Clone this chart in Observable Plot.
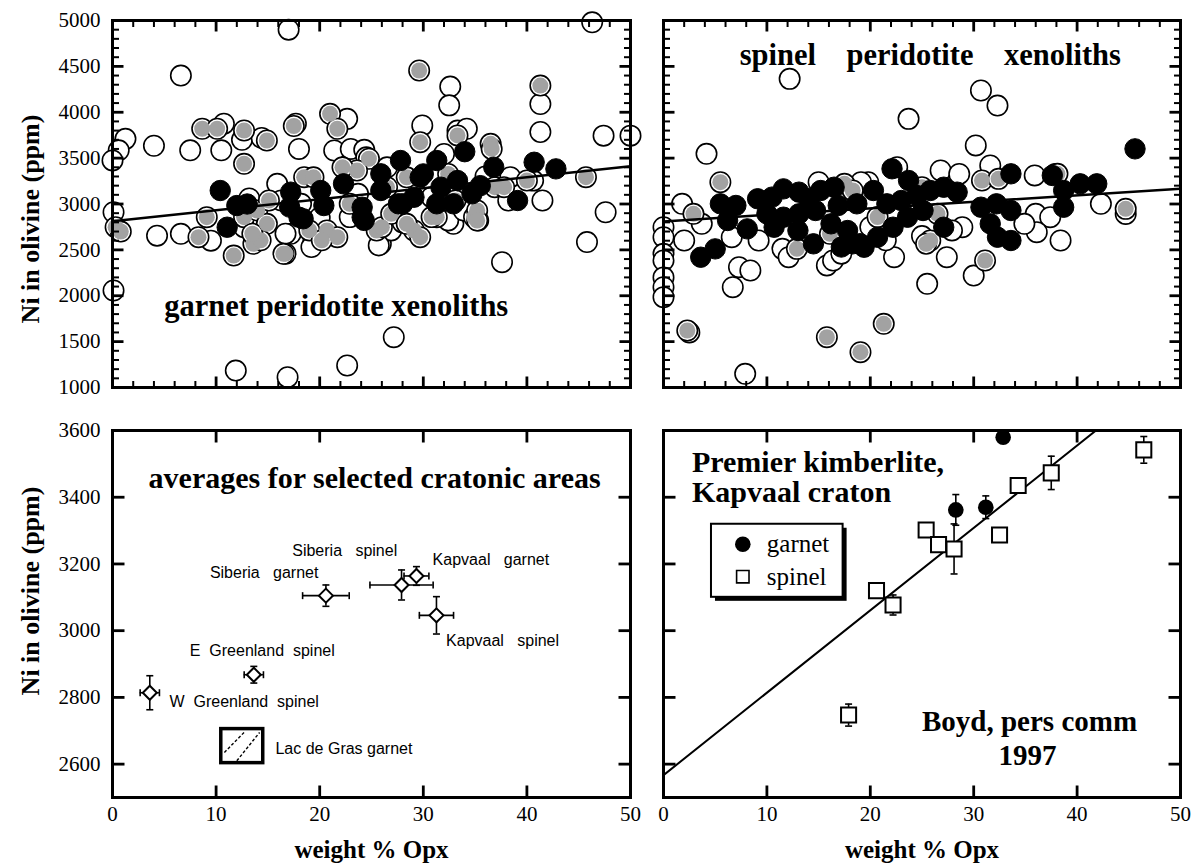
<!DOCTYPE html>
<html><head><meta charset="utf-8">
<script src="https://cdn.jsdelivr.net/npm/d3@7"></script>
<script src="https://cdn.jsdelivr.net/npm/@observablehq/plot@0.6"></script>
<style>
html,body{margin:0;padding:0;background:#fff;}
#chart{position:relative;width:1200px;height:865px;overflow:hidden;background:#fff;}
#chart > div{position:absolute;}
svg text{white-space:pre;}
g[aria-label="craton labels"] text{letter-spacing:0.3px;}
</style></head><body><div id="chart"></div>
<script>
// ---------- DATA ----------
// Top-left: garnet peridotite xenoliths  [weight % Opx, Ni ppm]
const garnetOpen = [[17.0,4900],[46.3,4980],[6.6,4400],[32.6,4280],[32.5,4075],[41.3,4090],[41.3,3785],[47.4,3745],[50.0,3745],[10.75,3875],[4.0,3635],[1.25,3710],[0.6,3585],[0,3475],[7.5,3585],[10.5,3585],[0.1,2910],[0.1,2057],[4.3,2655],[6.6,2675],[9.5,2600],[11.9,1185],[16.9,1112],[22.65,1240],[27.15,1548],[37.6,2366],[45.8,2585],[47.6,2910],[41.5,3038],[38.4,3292],[22.65,3928],[17.7,3875],[18.0,3600],[29.9,3856],[33.3,3800],[34.2,3820],[21.4,3583],[23.0,3600],[24.3,3590],[15.9,3220],[17.2,2675],[19.4,2602],[25.9,2566],[32.9,2784],[16.3,3038],[16.7,2676],[23.7,3111],[22.9,2857],[26.5,3400],[32.0,3545],[32.4,2821],[33.9,2929],[35.3,2821],[40.6,3255],[38.2,3038],[30.8,3074],[24.5,3509],[26.9,2712],[12.7,2748],[18.2,3002],[12.5,3700],[14.4,3720],[20.0,2850],[28.0,2800],[36.0,3300],[13.2,3060],[19.2,2531],[25.7,2549]];
const garnetGray = [[29.6,4455],[41.3,4291],[21.0,3983],[21.7,3820],[17.5,3850],[8.66,3820],[10.1,3820],[12.7,3801],[14.9,3692],[12.7,3438],[29.7,3674],[33.3,3747],[24.75,3493],[36.5,3656],[36.6,3600],[0.3,2747],[0.8,2700],[8.3,2638],[11.7,2438],[9.1,2856],[12.7,2856],[13.97,2929],[13.6,2566],[14.9,2784],[14.3,2604],[15.1,3038],[16.7,2459],[18.5,3292],[20.7,2711],[21.7,2638],[23.6,3365],[25.5,2711],[26.0,2747],[29.1,2711],[29.7,2638],[31.3,2856],[19.0,2712],[20.2,2604],[22.9,3002],[22.2,3400],[26.9,2893],[28.4,2784],[30.8,2857],[33.1,3038],[34.9,2857],[35.2,2929],[35.2,2820],[36.9,3183],[37.8,3183],[40.0,3256],[45.7,3292],[26.5,3183],[28.4,3291],[32.4,3328],[16.5,2457],[19.4,3291],[13.5,2676]];
const garnetBlack = [[10.4,3147],[12.0,2983],[13.0,3000],[11.07,2747],[17.2,3129],[18.0,2856],[17.1,2966],[18.4,2839],[20.1,3147],[20.4,2983],[22.3,3220],[24.1,2965],[24.1,2856],[24.3,2821],[25.9,3329],[25.9,3147],[27.8,3474],[27.6,3002],[29.1,3074],[29.7,3292],[31.3,3474],[31.7,3183],[31.3,3002],[33.3,3256],[32.9,3002],[34.0,3570],[36.8,3401],[40.7,3455],[42.8,3383],[39.1,3038],[34.7,3111],[28.0,3002],[30.0,3328],[35.5,3200]];
const garnetFit = [[0,2812],[50,3412]];

// Top-right: spinel peridotite xenoliths
const spinelOpen = [[12.2,4364],[30.7,4237],[32.3,4073],[23.7,3928],[30.2,3638],[4.16,3547],[31.6,3420],[1.8,3002],[2.0,2602],[3.7,2784],[0,2747],[0,2638],[0,2457],[0,2384],[0,2200],[0,2093],[0,1985],[6.6,2638],[7.3,2311],[8.4,2275],[6.7,2093],[9.2,2602],[11.5,2511],[12.1,2420],[15.8,2330],[2.5,1600],[7.9,1149],[22.3,2420],[25.5,2130],[27.4,2420],[30.0,2220],[28.9,2747],[16.4,2384],[26.8,3365],[19.8,3238],[22.6,3401],[42.3,3002],[44.7,2892],[36.0,2893],[37.4,2856],[36.1,2693],[38.4,2602],[34.9,2784],[35.9,3311],[17.2,2459],[21.5,2604],[15.0,3237],[19.1,3237],[28.6,3328],[37.9,3328],[27.9,2712],[20.0,2750],[25.0,2650]];
const spinelGray = [[2.9,2893],[5.5,3238],[12.9,2511],[2.3,1621],[15.8,1548],[21.3,1694],[19.05,1385],[31.1,2384],[25.8,2602],[17.5,3220],[30.8,3256],[32.4,3274],[38.1,3329],[44.7,2947],[16.1,2675],[25.4,2567],[18.3,3147],[25.0,3183],[26.5,2893],[20.7,2857]];
const spinelBlack = [[45.6,3601],[3.6,2420],[5.0,2511],[5.5,3002],[7.0,2984],[6.2,2820],[8.1,2729],[9.1,3057],[10.5,3075],[11.6,3165],[13.1,3129],[14.05,3057],[15.2,3147],[10.0,2893],[11.6,2856],[13.1,2893],[14.7,2929],[10.7,2747],[13.0,2711],[14.5,2566],[16.2,2784],[22.1,3384],[23.7,3256],[16.5,3183],[20.3,3147],[18.7,3002],[16.9,2984],[21.6,3002],[23.0,3038],[24.5,3093],[25.8,3147],[27.1,3183],[28.4,3129],[23.6,2856],[25.1,2929],[27.1,2747],[22.2,2747],[20.7,2638],[19.4,2529],[17.8,2711],[18.3,2566],[30.7,2965],[32.2,3002],[31.6,2784],[32.3,2638],[33.6,3329],[37.6,3311],[38.7,3147],[38.7,2965],[40.3,3220],[41.9,3220],[33.6,2929],[33.6,2602],[17.2,2531],[19.0,2567]];
const spinelFit = [[0,2810],[50,3165]];

// Bottom-left: averages for selected cratonic areas (x ± ex, y ± ey)
const cratonNames = ["W Greenland spinel","E Greenland spinel","Siberia garnet","Siberia spinel","Kapvaal garnet","Kapvaal spinel"];
const cratonX  = [3.6, 13.64, 20.6, 27.9, 29.34, 31.27];
const cratonEx = [0.93, 0.93, 2.25, 3.05, 1.2, 1.65];
const cratonY  = [2814, 2868, 3105, 3137, 3164, 3046];
const cratonEy = [51, 25, 32, 45, 28, 56];
const lacDeGras = {x1: 10.5, x2: 14.55, y1: 2603, y2: 2705};
const lacHatch = [{x1: 10.8, y1: 2635, x2: 12.7, y2: 2695}, {x1: 12.0, y1: 2610, x2: 14.2, y2: 2695}];

// Bottom-right: Premier kimberlite (Boyd, pers comm 1997)
const premierGarnet = [{x: 32.85, y: 3580, e: 0}, {x: 28.27, y: 3362, e: 46}, {x: 31.17, y: 3370, e: 34}];
const premierSpinel = [{x: 17.9, y: 2747, e: 33}, {x: 20.6, y: 3120, e: 0}, {x: 22.2, y: 3077, e: 30}, {x: 25.4, y: 3302, e: 0}, {x: 26.6, y: 3258, e: 0}, {x: 28.1, y: 3245, e: 75}, {x: 32.5, y: 3287, e: 0}, {x: 34.3, y: 3435, e: 0}, {x: 37.5, y: 3473, e: 50}, {x: 46.45, y: 3542, e: 40}];
const premierFit = [[0,2567],[50,3802]];

// Tick values
const xMajor = [10,20,30,40];
const xLabels = [0,10,20,30,40,50];
const xMinorTop = [2,4,6,8,12,14,16,18,22,24,26,28,32,34,36,38,42,44,46,48];
const yMajorTop = [1500,2000,2500,3000,3500,4000,4500];
const yLabelsTop = [1000,1500,2000,2500,3000,3500,4000,4500,5000];
const yMinorTop = d3.range(1100,5000,100).filter(d => d % 500 !== 0);
const yMajorBot = [2600,2800,3000,3200,3400];
const yLabelsBot = [2600,2800,3000,3200,3400,3600];

// Annotation texts
const titleTL = [{text: "garnet peridotite xenoliths", x: 21.6, y: 1885}];
const titleTR = [{text: "spinel    peridotite    xenoliths", x: 25.8, y: 4625}];
const titleBL = [{text: "averages for selected cratonic areas", x: 25.3, y: 3456}];
const cratonLabels = [
  {text: "Siberia   garnet", x: 9.4, y: 3172},
  {text: "Siberia   spinel", x: 17.35, y: 3240},
  {text: "Kapvaal   garnet", x: 30.9, y: 3211},
  {text: "Kapvaal   spinel", x: 32.2, y: 2970},
  {text: "E  Greenland  spinel", x: 7.46, y: 2940},
  {text: "W  Greenland  spinel", x: 5.5, y: 2788},
  {text: "Lac de Gras garnet", x: 15.73, y: 2646}
];
const titleBR = [{text: "Premier kimberlite,", x: 2.75, y: 3505}, {text: "Kapvaal craton", x: 2.75, y: 3415}];
const boydNote = [{text: "Boyd, pers comm", x: 35.4, y: 2726}, {text: "1997", x: 35.2, y: 2624}];
const legendBox = {x1: 4.64, x2: 17.37, y1: 3100, y2: 3319};
const legendItems = [{text: "garnet", x: 7.67, y: 3259, kind: "garnet"}, {text: "spinel", x: 7.67, y: 3162, kind: "spinel"}];

// ---------- DRAWING ----------
const SERIF = "'Liberation Serif','Times New Roman',Times,serif";
const SANS = "'Liberation Sans',Arial,Helvetica,sans-serif";
const chart = document.getElementById("chart");
const GRAY = "#a2a2a2";

const hcap = {draw(ctx, size) { const w = Math.sqrt(size / Math.PI); ctx.moveTo(-w, 0); ctx.lineTo(w, 0); }};
const vcap = {draw(ctx, size) { const w = Math.sqrt(size / Math.PI); ctx.moveTo(0, -w); ctx.lineTo(0, w); }};

// inward ticks on all four sides, as link segments (pixel length converted to data units)
function inwardTicks(xs, ys, len, sw, xd, yd, fw, fh) {
  const kx = len * (xd[1] - xd[0]) / fw, ky = len * (yd[1] - yd[0]) / fh;
  const segs = [];
  for (const v of xs) {
    segs.push({x1: v, x2: v, y1: yd[0], y2: yd[0] + ky});
    segs.push({x1: v, x2: v, y1: yd[1] - ky, y2: yd[1]});
  }
  for (const v of ys) {
    segs.push({x1: xd[0], x2: xd[0] + kx, y1: v, y2: v});
    segs.push({x1: xd[1] - kx, x2: xd[1], y1: v, y2: v});
  }
  return [Plot.link(segs, {x1: "x1", y1: "y1", x2: "x2", y2: "y2", stroke: "black", strokeWidth: sw, strokeLinecap: "butt"})];
}

function place(svg, left, top) {
  const div = document.createElement("div");
  div.style.left = left + "px";
  div.style.top = top + "px";
  div.appendChild(svg);
  chart.appendChild(div);
}

const XD = [0, 50], YT = [1000, 5000], YB = [2500, 3600];
const P = d => d[0], Q = d => d[1];
function xenoPanel(open, gray, black, fit, title, fw, extra) {
  return [
    Plot.dot(open, {x: P, y: Q, r: 10.2, fill: "white", stroke: "black", strokeWidth: 1.6}),
    Plot.dot(gray, {x: P, y: Q, r: 10.2, fill: "white", stroke: "black", strokeWidth: 1.6}),
    Plot.dot(gray, {x: P, y: Q, r: 8, fill: GRAY}),
    Plot.dot(black, {x: P, y: Q, r: 10.2, fill: "black", stroke: "black", strokeWidth: 1}),
    Plot.line(fit, {x: P, y: Q, stroke: "black", strokeWidth: 2.5}),
    Plot.text(title, {x: "x", y: "y", text: "text", fontFamily: SERIF, fontWeight: "bold", fontSize: 30.5, fill: "black"}),
    Plot.frame({stroke: "black", strokeWidth: 3}),
    ...inwardTicks(xMinorTop, yMinorTop, 6.5, 2, XD, YT, fw, 367),
    ...inwardTicks(xMajor, yMajorTop, 11, 2.8, XD, YT, fw, 367),
    ...extra
  ];
}

const yAxisTitle = (dy) => Plot.text(["Ni in olivine (ppm)"], {frameAnchor: "left", textAnchor: "middle", lineAnchor: "middle", dx: -82, dy, rotate: -90, fontFamily: SERIF, fontWeight: "bold", fontSize: 26, fill: "black"});
const xAxisTitle = Plot.text(["weight % Opx"], {frameAnchor: "bottom", textAnchor: "middle", lineAnchor: "middle", dy: 52, fontFamily: SERIF, fontWeight: "bold", fontSize: 25, fill: "black"});
const tickText = {tickSize: 0, tickFormat: d3.format("d"), fontSize: 21, fontFamily: SERIF, label: null};
const common = {style: {background: "transparent", overflow: "visible", fontFamily: SERIF, color: "black"}};

// Top-left
place(Plot.plot({
  ...common, width: 640, height: 400, marginLeft: 112, marginRight: 10, marginTop: 20, marginBottom: 13,
  x: {domain: XD, axis: null}, y: {domain: YT, axis: null},
  marks: xenoPanel(garnetOpen, garnetGray, garnetBlack, garnetFit, titleTL, 518, [
    Plot.axisY(yLabelsTop, {...tickText, tickPadding: 12}),
    yAxisTitle(15)
  ])
}), 0, 0);

// Top-right
place(Plot.plot({
  ...common, width: 560, height: 400, marginLeft: 23, marginRight: 20, marginTop: 20, marginBottom: 13,
  x: {domain: XD, axis: null}, y: {domain: YT, axis: null},
  marks: xenoPanel(spinelOpen, spinelGray, spinelBlack, spinelFit, titleTR, 517, [])
}), 640, 0);

// Bottom-left
const capO = {symbol: hcap, r: 3.5, stroke: "black", fill: "none", strokeWidth: 1.6};
const vcapO = {symbol: vcap, r: 3.5, stroke: "black", fill: "none", strokeWidth: 1.6};
place(Plot.plot({
  ...common, width: 640, height: 465, marginLeft: 112, marginRight: 10, marginTop: 30, marginBottom: 68,
  x: {domain: XD, axis: null}, y: {domain: YB, axis: null},
  marks: [
    Plot.ruleX(cratonX, {x: d => d, y1: (d, i) => cratonY[i] - cratonEy[i], y2: (d, i) => cratonY[i] + cratonEy[i], stroke: "black", strokeWidth: 1.6}),
    Plot.ruleY(cratonY, {y: d => d, x1: (d, i) => cratonX[i] - cratonEx[i], x2: (d, i) => cratonX[i] + cratonEx[i], stroke: "black", strokeWidth: 1.6}),
    Plot.dot(cratonX, {x: d => d, y: (d, i) => cratonY[i] - cratonEy[i], ...capO}),
    Plot.dot(cratonX, {x: d => d, y: (d, i) => cratonY[i] + cratonEy[i], ...capO}),
    Plot.dot(cratonX, {x: (d, i) => cratonX[i] - cratonEx[i], y: (d, i) => cratonY[i], ...vcapO}),
    Plot.dot(cratonX, {x: (d, i) => cratonX[i] + cratonEx[i], y: (d, i) => cratonY[i], ...vcapO}),
    Plot.dot(cratonX, {x: d => d, y: (d, i) => cratonY[i], symbol: "diamond2", r: 6.3, fill: "white", stroke: "black", strokeWidth: 2, title: (d, i) => cratonNames[i]}),
    Plot.rect([lacDeGras], {x1: "x1", x2: "x2", y1: "y1", y2: "y2", fill: "white", stroke: "black", strokeWidth: 3.5}),
    Plot.link(lacHatch, {x1: "x1", y1: "y1", x2: "x2", y2: "y2", stroke: "black", strokeWidth: 1.4, strokeDasharray: "3,2"}),
    Plot.text(cratonLabels, {x: "x", y: "y", text: "text", textAnchor: "start", fontFamily: SANS, fontSize: 16, fill: "black", ariaLabel: "craton labels"}),
    Plot.text(titleBL, {x: "x", y: "y", text: "text", fontFamily: SERIF, fontWeight: "bold", fontSize: 30, fill: "black"}),
    Plot.frame({stroke: "black", strokeWidth: 3}),
    ...inwardTicks(xMajor, yMajorBot, 12, 2.8, XD, YB, 518, 367),
    Plot.axisY(yLabelsBot, {...tickText, tickPadding: 12}),
    Plot.axisX(xLabels, {...tickText, tickPadding: 9}),
    yAxisTitle(-23),
    xAxisTitle
  ]
}), 0, 400);

// Bottom-right
const withErr = [...premierSpinel, ...premierGarnet].filter(d => d.e);
place(Plot.plot({
  ...common, width: 560, height: 465, marginLeft: 23, marginRight: 20, marginTop: 30, marginBottom: 68,
  x: {domain: XD, axis: null}, y: {domain: YB, axis: null},
  marks: [
    Plot.line(premierFit, {x: P, y: Q, stroke: "black", strokeWidth: 2, clip: true}),
    Plot.ruleX(withErr, {x: "x", y1: d => d.y - d.e, y2: d => d.y + d.e, stroke: "black", strokeWidth: 1.6}),
    Plot.dot(withErr, {x: "x", y: d => d.y - d.e, ...capO}),
    Plot.dot(withErr, {x: "x", y: d => d.y + d.e, ...capO}),
    Plot.dot(premierSpinel, {x: "x", y: "y", symbol: "square", r: 8.5, fill: "white", stroke: "black", strokeWidth: 2}),
    Plot.dot(premierGarnet, {x: "x", y: "y", r: 7.8, fill: "black"}),
    Plot.rect([legendBox], {x1: "x1", x2: "x2", y1: "y1", y2: "y2", fill: "black", dx: 4, dy: 4}),
    Plot.rect([legendBox], {x1: "x1", x2: "x2", y1: "y1", y2: "y2", fill: "white", stroke: "black", strokeWidth: 2}),
    Plot.dot(legendItems.filter(d => d.kind === "garnet"), {x: "x", y: "y", r: 7.8, fill: "black"}),
    Plot.dot(legendItems.filter(d => d.kind === "spinel"), {x: "x", y: "y", symbol: "square", r: 7, fill: "white", stroke: "black", strokeWidth: 1.6}),
    Plot.text(legendItems, {x: "x", y: "y", text: "text", dx: 24, textAnchor: "start", fontFamily: SERIF, fontSize: 25, fill: "black"}),
    Plot.text(titleBR, {x: "x", y: "y", text: "text", textAnchor: "start", fontFamily: SERIF, fontWeight: "bold", fontSize: 30, fill: "black"}),
    Plot.text(boydNote, {x: "x", y: "y", text: "text", fontFamily: SERIF, fontWeight: "bold", fontSize: 29, fill: "black"}),
    Plot.frame({stroke: "black", strokeWidth: 3}),
    ...inwardTicks(xMajor, yMajorBot, 12, 2.8, XD, YB, 517, 367),
    Plot.axisX(xLabels, {...tickText, tickPadding: 9}),
    xAxisTitle
  ]
}), 640, 400);
</script></body></html>
